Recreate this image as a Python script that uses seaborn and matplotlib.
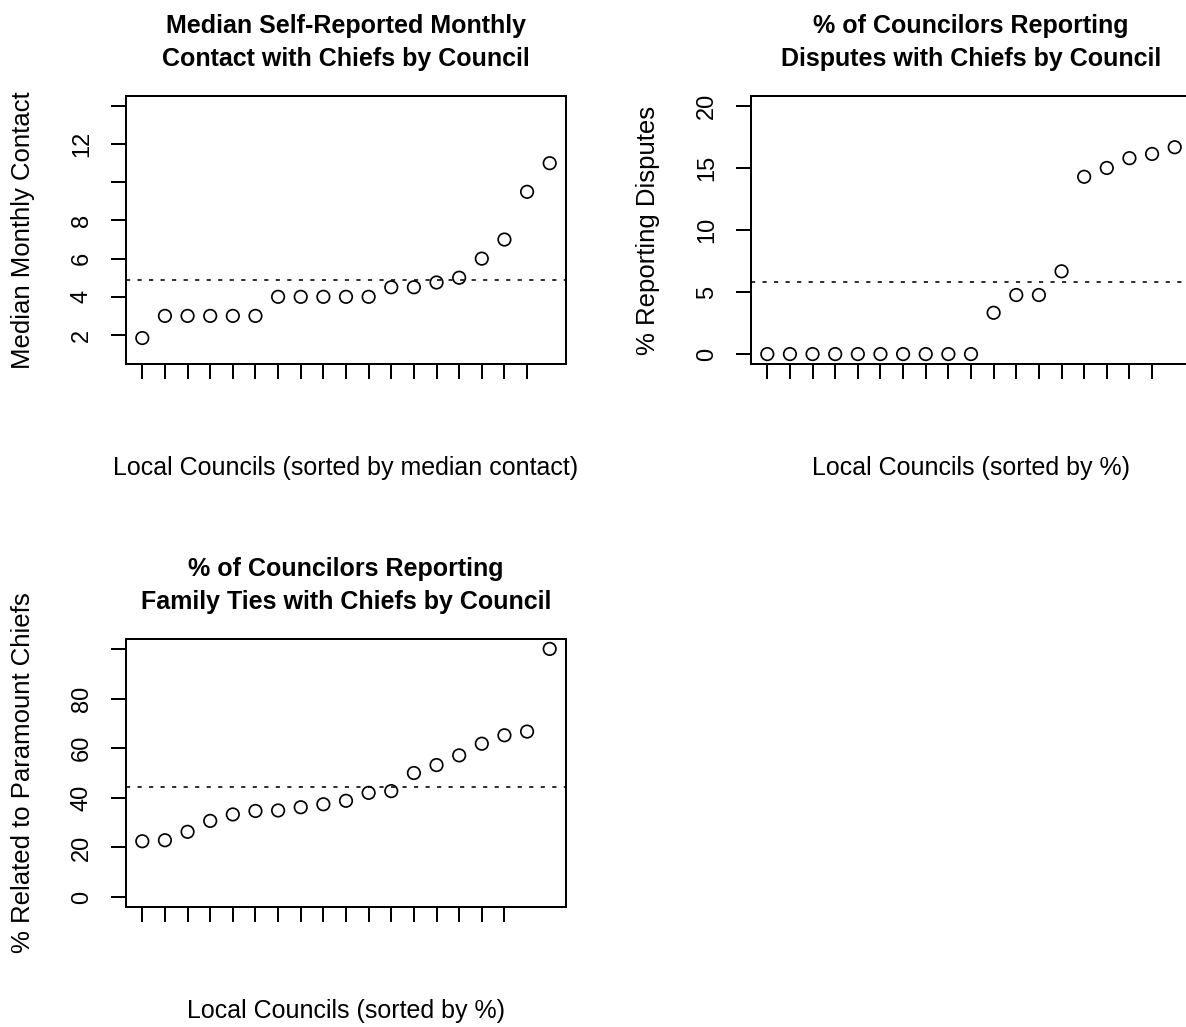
import numpy as np
import pandas as pd
import matplotlib
matplotlib.use("Agg")
import matplotlib.pyplot as plt
import seaborn as sns

# Median self-reported monthly contact with chiefs, councils sorted ascending
contact = [1.84, 3.0, 3.0, 3.0, 3.0, 3.0, 4.0, 4.0, 4.0, 4.0, 4.0,
           4.5, 4.5, 4.75, 5.0, 6.0, 7.0, 9.5, 11.0]
contact_ref = 4.88

# % of councilors reporting disputes with chiefs
disputes = [0.0, 0.0, 0.0, 0.0, 0.0, 0.0, 0.0, 0.0, 0.0, 0.0,
            3.33, 4.76, 4.76, 6.67, 14.29, 15.0, 15.79, 16.13, 16.67]
disputes_ref = 5.8

# % of councilors related to paramount chiefs
ties = [22.5, 22.9, 26.3, 30.7, 33.3, 34.7, 34.9, 36.2, 37.4, 38.8,
        42.0, 42.7, 50.0, 53.2, 57.1, 61.8, 65.2, 66.7, 100.0]
ties_ref = 44.4

titles = [
    ["Median Self-Reported Monthly", "Contact with Chiefs by Council"],
    ["% of Councilors Reporting", "Disputes with Chiefs by Council"],
    ["% of Councilors Reporting", "Family Ties with Chiefs by Council"],
]
ylabels = ["Median Monthly Contact", "% Reporting Disputes", "% Related to Paramount Chiefs"]
xlabels = ["Local Councils (sorted by median contact)",
           "Local Councils (sorted by %)",
           "Local Councils (sorted by %)"]

y_ticks = [[2, 4, 6, 8, 10, 12, 14], [0, 5, 10, 15, 20], [0, 20, 40, 60, 80, 100]]
y_ticklabels = [["2", "4", "6", "8", "", "12", ""],
                ["0", "5", "10", "15", "20"],
                ["0", "20", "40", "60", "80", ""]]
y_limits = [(0.48, 14.52), (-0.8, 20.8), (-4.0, 104.0)]
n_xticks = [18, 18, 17]

sns.set_style("white")
plt.rcParams["font.family"] = ["Liberation Sans", "DejaVu Sans"]
plt.rcParams["text.color"] = "black"
plt.rcParams["axes.labelcolor"] = "black"
plt.rcParams["xtick.color"] = "black"
plt.rcParams["ytick.color"] = "black"

W, H = 1186, 1027
DPI = 100
fig = plt.figure(figsize=(W / DPI, H / DPI), dpi=DPI)
fig.patch.set_facecolor("white")

px = 72.0 / DPI  # points per pixel

# panel boxes in pixels: left, top, right, bottom
boxes = [(126, 96, 566, 364), (751, 96, 1191, 364), (126, 639, 566, 907)]
series = [(contact, contact_ref), (disputes, disputes_ref), (ties, ties_ref)]

for i, ((l, t, r, b), (vals, ref)) in enumerate(zip(boxes, series)):
    ax = fig.add_axes([l / W, 1 - b / H, (r - l) / W, (b - t) / H])
    df = pd.DataFrame({"council": np.arange(1, len(vals) + 1), "value": vals})
    sns.scatterplot(data=df, x="council", y="value", ax=ax, marker="o",
                    s=(12.5 * px) ** 2, facecolor="none", edgecolor="black",
                    linewidth=1.7 * px, zorder=3, clip_on=False)
    ax.axhline(ref, color="black", linewidth=1.6 * px,
               linestyle=(0, (2.6, 4.6)), zorder=2)

    ax.set_xlim(0.28, len(vals) + 0.72)
    ax.set_ylim(*y_limits[i])
    ax.set_xticks(np.arange(1, n_xticks[i] + 1))
    ax.set_xticklabels([])
    ax.set_yticks(y_ticks[i])
    ax.set_yticklabels(y_ticklabels[i])

    ax.tick_params(axis="both", direction="out", length=15 * px, width=2 * px,
                   color="black", bottom=True, left=True)
    ax.tick_params(axis="y", pad=29 * px, labelsize=17, labelcolor="black")
    for lab in ax.get_yticklabels():
        lab.set_rotation(90)
        lab.set_ha("center")
        lab.set_va("center")

    for sp in ax.spines.values():
        sp.set_visible(True)
        sp.set_color("black")
        sp.set_linewidth(2 * px)
    ax.grid(False)

    ax.set_xlabel(xlabels[i], fontsize=18, color="black")
    ax.xaxis.set_label_coords(0.5, -(104.0 / (b - t)))
    ax.xaxis.label.set_va("center")
    ax.set_ylabel(ylabels[i], fontsize=18.5, color="black")
    ax.yaxis.set_label_coords(-(103.0 / (r - l)), 0.5)
    ax.yaxis.label.set_va("center")

    cx = (l + r) / 2
    for j, line in enumerate(titles[i]):
        fig.text(cx / W, 1 - (t - 70 + 33 * j) / H, line, ha="center", va="center",
                 fontsize=18, fontweight="bold", color="black")

fig.savefig("out.png", dpi=DPI, facecolor="white")
